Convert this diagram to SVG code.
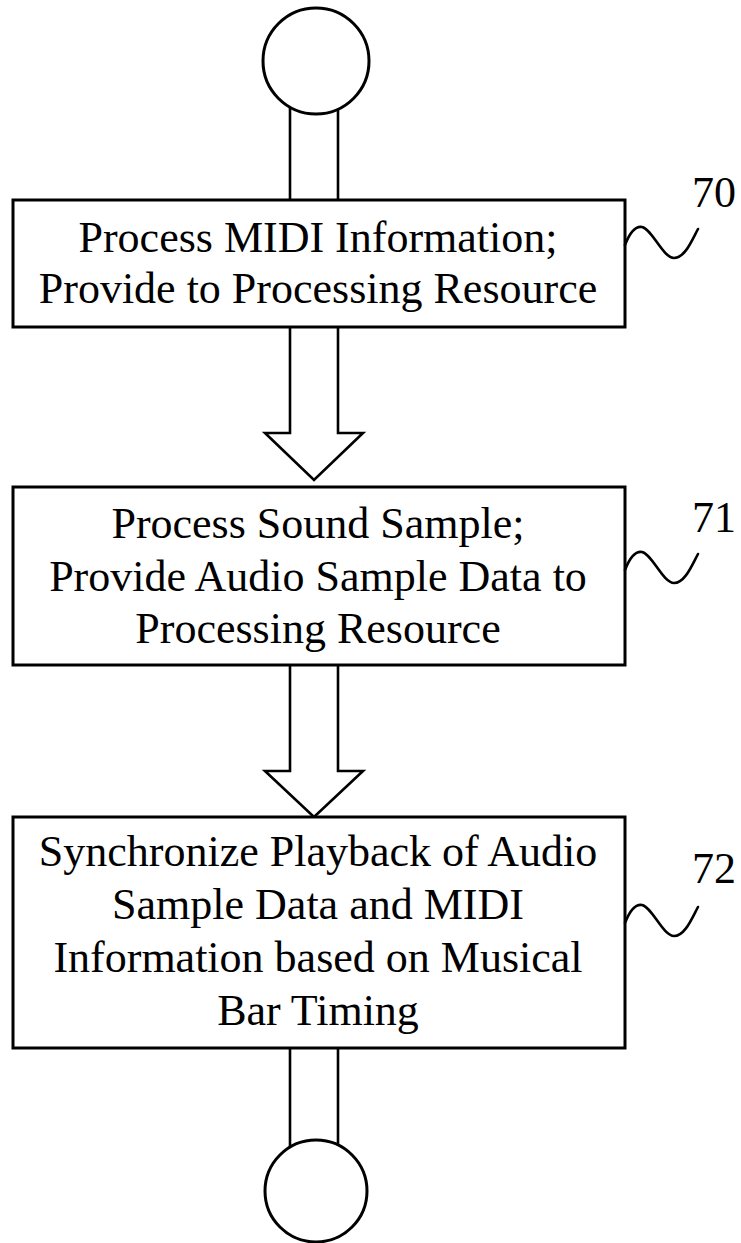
<svg xmlns="http://www.w3.org/2000/svg" width="741" height="1243" viewBox="0 0 741 1243">
<style>
.box{fill:#fff;stroke:#000;stroke-width:3}
.term{fill:#fff;stroke:#000;stroke-width:3}
.conn{fill:#fff;stroke:#000;stroke-width:2.6;stroke-linejoin:miter}
.sq{fill:none;stroke:#000;stroke-width:2.6;stroke-linecap:round}
.t{font-family:"Liberation Serif","Times New Roman",serif;font-size:44px;fill:#000;text-anchor:middle}
.ref{font-family:"Liberation Serif","Times New Roman",serif;font-size:44px;fill:#000}
</style>
<defs>
<path id="squig" d="M625,245 C630,232 636,226 642,227 C652,229 663,258 674,258 C685,258 692,240 698,229"/>
</defs>
<rect width="741" height="1243" fill="#fff"/>
<g id="connectors">
<path class="conn" d="M290,100 L290,200 M338,100 L338,200"/>
<path class="conn" d="M290,327 L290,433 L265,433 L314,480 L363,433 L338,433 L338,327"/>
<path class="conn" d="M290,665 L290,771 L265,771 L314,817 L363,771 L338,771 L338,665"/>
<path class="conn" d="M290,1048 L290,1150 M338,1048 L338,1150"/>
</g>
<g id="start">
<circle class="term" cx="316" cy="61" r="53"/>
</g>
<g id="step70">
<rect class="box" x="13" y="200" width="612" height="127"/>
<text class="t" x="318" y="252">Process MIDI Information;</text>
<text class="t" x="318" y="303">Provide to Processing Resource</text>
<use href="#squig" class="sq"/>
<text class="ref" x="692" y="207">70</text>
</g>
<g id="step71">
<rect class="box" x="13" y="487" width="612" height="178"/>
<text class="t" x="318" y="538">Process Sound Sample;</text>
<text class="t" x="318" y="591">Provide Audio Sample Data to</text>
<text class="t" x="318" y="643">Processing Resource</text>
<use href="#squig" class="sq" transform="translate(0,325)"/>
<text class="ref" x="692" y="532">71</text>
</g>
<g id="step72">
<rect class="box" x="13" y="817" width="612" height="231"/>
<text class="t" x="318" y="866">Synchronize Playback of Audio</text>
<text class="t" x="318" y="919">Sample Data and MIDI</text>
<text class="t" x="318" y="972">Information based on Musical</text>
<text class="t" x="318" y="1025">Bar Timing</text>
<use href="#squig" class="sq" transform="translate(0,678)"/>
<text class="ref" x="692" y="883">72</text>
</g>
<g id="end">
<circle class="term" cx="316" cy="1191" r="51"/>
</g>
</svg>
